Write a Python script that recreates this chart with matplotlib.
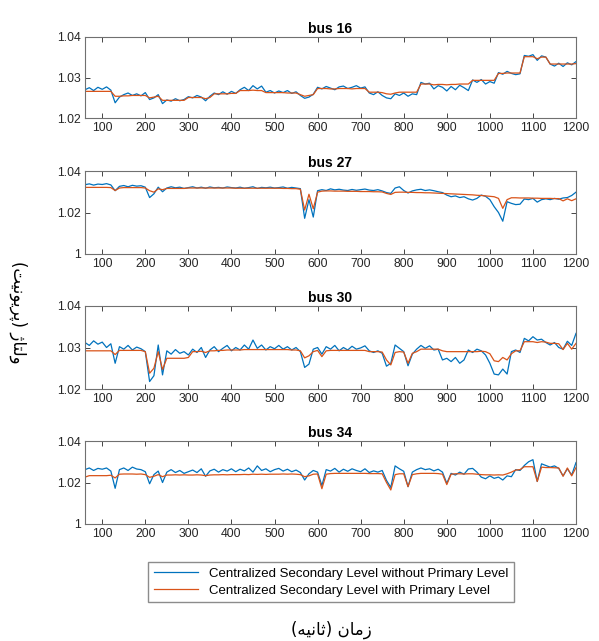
import matplotlib
matplotlib.use('Agg')
import matplotlib.pyplot as plt
from matplotlib.ticker import FuncFormatter
import numpy as np

time_s = np.arange(60, 1201, 10)

# bus 16 - one row per 100 s (first row: 60..100)
bus16_without = [
    1.0270, 1.0275, 1.0268, 1.0276, 1.0271,
    1.0277, 1.0269, 1.0238, 1.0252, 1.0258, 1.0262, 1.0256, 1.0260, 1.0255, 1.0263,
    1.0246, 1.0250, 1.0258, 1.0236, 1.0245, 1.0242, 1.0248, 1.0243, 1.0246, 1.0253,
    1.0250, 1.0256, 1.0252, 1.0243, 1.0254, 1.0262, 1.0258, 1.0265, 1.0259, 1.0266,
    1.0261, 1.0270, 1.0276, 1.0268, 1.0280, 1.0272, 1.0279, 1.0264, 1.0268, 1.0262,
    1.0267, 1.0263, 1.0268, 1.0261, 1.0265, 1.0256, 1.0249, 1.0252, 1.0259, 1.0276,
    1.0272, 1.0278, 1.0274, 1.0270, 1.0277, 1.0279, 1.0273, 1.0276, 1.0280, 1.0274,
    1.0277, 1.0262, 1.0258, 1.0265, 1.0256, 1.0250, 1.0248, 1.0260, 1.0256, 1.0262,
    1.0254, 1.0260, 1.0258, 1.0288, 1.0284, 1.0286, 1.0272, 1.0280, 1.0276, 1.0267,
    1.0278, 1.0270, 1.0281, 1.0275, 1.0268, 1.0294, 1.0288, 1.0295, 1.0284, 1.0290,
    1.0286, 1.0312, 1.0308, 1.0315, 1.0310, 1.0307, 1.0309, 1.0354, 1.0352, 1.0356,
    1.0342, 1.0353, 1.0350, 1.0333, 1.0328, 1.0335, 1.0327, 1.0336, 1.0331, 1.0339,
]
bus16_with = [
    1.0266, 1.0266, 1.0266, 1.0266, 1.0266,
    1.0266, 1.0266, 1.0254, 1.0254, 1.0255, 1.0255, 1.0256, 1.0256, 1.0256, 1.0256,
    1.0250, 1.0252, 1.0254, 1.0244, 1.0244, 1.0244, 1.0244, 1.0244, 1.0244, 1.0251,
    1.0251, 1.0251, 1.0251, 1.0248, 1.0251, 1.0260, 1.0260, 1.0260, 1.0260, 1.0261,
    1.0261, 1.0268, 1.0268, 1.0268, 1.0269, 1.0268, 1.0268, 1.0263, 1.0263, 1.0263,
    1.0263, 1.0263, 1.0262, 1.0262, 1.0262, 1.0258, 1.0254, 1.0256, 1.0258, 1.0273,
    1.0273, 1.0273, 1.0272, 1.0272, 1.0273, 1.0273, 1.0273, 1.0272, 1.0273, 1.0273,
    1.0273, 1.0264, 1.0264, 1.0264, 1.0263, 1.0260, 1.0259, 1.0262, 1.0264, 1.0264,
    1.0264, 1.0264, 1.0264, 1.0284, 1.0284, 1.0284, 1.0282, 1.0283, 1.0283, 1.0282,
    1.0283, 1.0283, 1.0284, 1.0284, 1.0284, 1.0293, 1.0293, 1.0293, 1.0293, 1.0293,
    1.0293, 1.0310, 1.0310, 1.0311, 1.0311, 1.0311, 1.0311, 1.0351, 1.0351, 1.0351,
    1.0346, 1.0350, 1.0350, 1.0333, 1.0333, 1.0333, 1.0333, 1.0333, 1.0333, 1.0334,
]

# bus 27
bus27_without = [
    1.0334, 1.0338, 1.0332, 1.0337, 1.0335,
    1.0339, 1.0333, 1.0305, 1.0326, 1.0330, 1.0324, 1.0331, 1.0327, 1.0329, 1.0322,
    1.0272, 1.0290, 1.0322, 1.0300, 1.0318, 1.0324, 1.0319, 1.0322, 1.0316, 1.0320,
    1.0324, 1.0318, 1.0322, 1.0317, 1.0323, 1.0319, 1.0321, 1.0318, 1.0323, 1.0320,
    1.0318, 1.0322, 1.0317, 1.0320, 1.0324, 1.0316, 1.0321, 1.0319, 1.0322, 1.0318,
    1.0320, 1.0323, 1.0317, 1.0321, 1.0318, 1.0315, 1.0172, 1.0262, 1.0178, 1.0305,
    1.0310, 1.0306, 1.0314, 1.0309, 1.0312, 1.0308, 1.0306, 1.0311, 1.0307, 1.0310,
    1.0313, 1.0308, 1.0306, 1.0310, 1.0304, 1.0296, 1.0292, 1.0318, 1.0324, 1.0306,
    1.0294, 1.0304, 1.0309, 1.0312, 1.0306, 1.0309, 1.0305, 1.0300, 1.0296, 1.0284,
    1.0276, 1.0280, 1.0272, 1.0276, 1.0266, 1.0260, 1.0268, 1.0284, 1.0278, 1.0262,
    1.0228, 1.0200, 1.0158, 1.0252, 1.0244, 1.0238, 1.0240, 1.0265, 1.0262, 1.0268,
    1.0250, 1.0262, 1.0266, 1.0262, 1.0268, 1.0264, 1.0270, 1.0272, 1.0282, 1.0298,
]
bus27_with = [
    1.0321, 1.0321, 1.0321, 1.0321, 1.0321,
    1.0321, 1.0320, 1.0306, 1.0318, 1.0320, 1.0320, 1.0320, 1.0320, 1.0320, 1.0318,
    1.0305, 1.0298, 1.0314, 1.0310, 1.0316, 1.0316, 1.0316, 1.0316, 1.0316, 1.0318,
    1.0318, 1.0318, 1.0318, 1.0318, 1.0318, 1.0318, 1.0318, 1.0318, 1.0318, 1.0318,
    1.0317, 1.0317, 1.0317, 1.0317, 1.0317, 1.0317, 1.0317, 1.0317, 1.0317, 1.0317,
    1.0317, 1.0316, 1.0316, 1.0315, 1.0315, 1.0312, 1.0212, 1.0288, 1.0218, 1.0298,
    1.0303, 1.0304, 1.0304, 1.0303, 1.0303, 1.0303, 1.0302, 1.0302, 1.0302, 1.0301,
    1.0301, 1.0301, 1.0300, 1.0300, 1.0299, 1.0292, 1.0287, 1.0297, 1.0298, 1.0298,
    1.0297, 1.0297, 1.0296, 1.0296, 1.0295, 1.0295, 1.0294, 1.0293, 1.0292, 1.0291,
    1.0290, 1.0289, 1.0288, 1.0287, 1.0286, 1.0285, 1.0283, 1.0282, 1.0280, 1.0278,
    1.0276, 1.0268, 1.0220, 1.0262, 1.0271, 1.0271, 1.0270, 1.0270, 1.0270, 1.0269,
    1.0269, 1.0268, 1.0268, 1.0268, 1.0267, 1.0267, 1.0256, 1.0266, 1.0257, 1.0266,
]

# bus 30
bus30_without = [
    1.0312, 1.0305, 1.0316, 1.0308, 1.0313,
    1.0300, 1.0309, 1.0262, 1.0302, 1.0296, 1.0305, 1.0294, 1.0301, 1.0297, 1.0290,
    1.0218, 1.0232, 1.0306, 1.0234, 1.0292, 1.0284, 1.0295, 1.0286, 1.0290, 1.0282,
    1.0296, 1.0288, 1.0300, 1.0276, 1.0294, 1.0302, 1.0290, 1.0298, 1.0305, 1.0292,
    1.0300, 1.0294, 1.0306, 1.0296, 1.0318, 1.0298, 1.0306, 1.0294, 1.0302, 1.0297,
    1.0305, 1.0296, 1.0302, 1.0294, 1.0300, 1.0290, 1.0252, 1.0260, 1.0296, 1.0300,
    1.0284, 1.0302, 1.0296, 1.0305, 1.0292, 1.0300, 1.0294, 1.0303, 1.0296, 1.0299,
    1.0304, 1.0292, 1.0288, 1.0292, 1.0286, 1.0255, 1.0262, 1.0306, 1.0298, 1.0290,
    1.0256, 1.0284, 1.0296, 1.0305, 1.0298, 1.0304, 1.0294, 1.0296, 1.0270, 1.0274,
    1.0266, 1.0276, 1.0262, 1.0270, 1.0294, 1.0288, 1.0296, 1.0292, 1.0282, 1.0262,
    1.0236, 1.0234, 1.0248, 1.0236, 1.0290, 1.0294, 1.0288, 1.0322, 1.0316, 1.0326,
    1.0318, 1.0320, 1.0312, 1.0306, 1.0312, 1.0300, 1.0296, 1.0315, 1.0305, 1.0334,
]
bus30_with = [
    1.0292, 1.0292, 1.0292, 1.0292, 1.0292,
    1.0292, 1.0292, 1.0283, 1.0293, 1.0293, 1.0293, 1.0293, 1.0293, 1.0293, 1.0290,
    1.0238, 1.0250, 1.0290, 1.0247, 1.0274, 1.0274, 1.0274, 1.0274, 1.0274, 1.0276,
    1.0290, 1.0290, 1.0291, 1.0288, 1.0292, 1.0292, 1.0293, 1.0293, 1.0294, 1.0294,
    1.0294, 1.0294, 1.0295, 1.0295, 1.0295, 1.0295, 1.0295, 1.0295, 1.0295, 1.0295,
    1.0295, 1.0295, 1.0295, 1.0294, 1.0294, 1.0292, 1.0275, 1.0280, 1.0290, 1.0293,
    1.0278, 1.0292, 1.0293, 1.0293, 1.0293, 1.0293, 1.0293, 1.0293, 1.0293, 1.0293,
    1.0293, 1.0290, 1.0290, 1.0290, 1.0289, 1.0270, 1.0258, 1.0288, 1.0290, 1.0289,
    1.0262, 1.0286, 1.0290, 1.0296, 1.0296, 1.0296, 1.0296, 1.0296, 1.0292, 1.0290,
    1.0290, 1.0290, 1.0290, 1.0290, 1.0290, 1.0290, 1.0290, 1.0291, 1.0290, 1.0285,
    1.0268, 1.0266, 1.0276, 1.0270, 1.0285, 1.0292, 1.0292, 1.0314, 1.0314, 1.0314,
    1.0312, 1.0314, 1.0313, 1.0310, 1.0310, 1.0309, 1.0295, 1.0310, 1.0296, 1.0310,
]

# bus 34
bus34_without = [
    1.0262, 1.0270, 1.0258, 1.0268, 1.0264,
    1.0270, 1.0255, 1.0172, 1.0262, 1.0270, 1.0258, 1.0274, 1.0265, 1.0262, 1.0252,
    1.0194, 1.0238, 1.0255, 1.0200, 1.0250, 1.0262, 1.0248, 1.0258, 1.0244, 1.0252,
    1.0260, 1.0248, 1.0266, 1.0230, 1.0256, 1.0264, 1.0250, 1.0262, 1.0255, 1.0266,
    1.0252, 1.0264, 1.0256, 1.0270, 1.0250, 1.0280, 1.0258, 1.0266, 1.0252, 1.0262,
    1.0268, 1.0255, 1.0264, 1.0252, 1.0260, 1.0248, 1.0212, 1.0242, 1.0258, 1.0250,
    1.0185, 1.0262, 1.0255, 1.0268, 1.0250, 1.0264, 1.0254, 1.0266, 1.0258, 1.0252,
    1.0266, 1.0248, 1.0256, 1.0250, 1.0258, 1.0210, 1.0176, 1.0280, 1.0266, 1.0254,
    1.0180, 1.0250, 1.0262, 1.0270, 1.0262, 1.0266, 1.0256, 1.0264, 1.0250, 1.0196,
    1.0244, 1.0236, 1.0250, 1.0240, 1.0265, 1.0268, 1.0250, 1.0226, 1.0218, 1.0232,
    1.0220, 1.0226, 1.0212, 1.0232, 1.0228, 1.0262, 1.0258, 1.0282, 1.0300, 1.0310,
    1.0205, 1.0290, 1.0282, 1.0274, 1.0280, 1.0268, 1.0232, 1.0266, 1.0236, 1.0296,
]
bus34_with = [
    1.0226, 1.0233, 1.0233, 1.0233, 1.0233,
    1.0233, 1.0235, 1.0222, 1.0240, 1.0241, 1.0241, 1.0241, 1.0240, 1.0241, 1.0238,
    1.0225, 1.0230, 1.0238, 1.0228, 1.0236, 1.0236, 1.0237, 1.0236, 1.0237, 1.0236,
    1.0236, 1.0237, 1.0236, 1.0233, 1.0236, 1.0237, 1.0237, 1.0238, 1.0237, 1.0238,
    1.0238, 1.0238, 1.0239, 1.0238, 1.0240, 1.0239, 1.0240, 1.0239, 1.0240, 1.0240,
    1.0240, 1.0241, 1.0240, 1.0241, 1.0240, 1.0238, 1.0228, 1.0232, 1.0240, 1.0241,
    1.0170, 1.0240, 1.0243, 1.0244, 1.0244, 1.0244, 1.0244, 1.0244, 1.0244, 1.0244,
    1.0244, 1.0243, 1.0243, 1.0243, 1.0242, 1.0200, 1.0164, 1.0238, 1.0242, 1.0242,
    1.0180, 1.0238, 1.0242, 1.0244, 1.0244, 1.0244, 1.0244, 1.0243, 1.0240, 1.0190,
    1.0240, 1.0242, 1.0242, 1.0241, 1.0242, 1.0242, 1.0240, 1.0238, 1.0237, 1.0237,
    1.0236, 1.0237, 1.0236, 1.0242, 1.0250, 1.0260, 1.0262, 1.0276, 1.0276, 1.0276,
    1.0205, 1.0274, 1.0272, 1.0272, 1.0271, 1.0270, 1.0230, 1.0270, 1.0232, 1.0272,
]

bus_names = ['bus 16', 'bus 27', 'bus 30', 'bus 34']
series_without = [bus16_without, bus27_without, bus30_without, bus34_without]
series_with = [bus16_with, bus27_with, bus30_with, bus34_with]
y_limits = [(1.02, 1.04), (1.0, 1.04), (1.02, 1.04), (1.0, 1.04)]
y_ticks = [[1.02, 1.03, 1.04], [1.0, 1.02, 1.04], [1.02, 1.03, 1.04], [1.0, 1.02, 1.04]]
x_ticks = list(range(100, 1201, 100))

legend_labels = ['Centralized Secondary Level without Primary Level',
                 'Centralized Secondary Level with Primary Level']

# Persian labels, written in visual order with Arabic presentation forms
# (matplotlib does no shaping): "زمان (ثانیه)" and "ولتاژ (پریونیت)"
x_label = '(\uFEEA\uFEF4\uFEE7\uFE8E\uFE9B) \uFEE5\uFE8E\uFEE3\uFEAF'
y_label = '(\uFE96\uFEF4\uFEE7\uFEEE\uFEF3\uFEAE\uFB58) \uFB8A\uFE8E\uFE98\uFEDF\uFEED'

blue = '#0072BD'
orange = '#D95319'
edge = '#262626'

plt.rcParams['font.family'] = ['Liberation Sans', 'DejaVu Sans']

W, H = 599, 641
fig = plt.figure(figsize=(W / 100, H / 100), dpi=100)

# axes boxes in pixels (top, bottom)
boxes = [(36.7, 118.3), (171, 254), (306, 389), (441, 524)]
left_px, right_px = 85, 576

lines = []
for i in range(4):
    top, bot = boxes[i]
    ax = fig.add_axes([left_px / W, 1 - bot / H, (right_px - left_px) / W, (bot - top) / H])
    l1, = ax.plot(time_s, series_without[i], color=blue, lw=0.9)
    l2, = ax.plot(time_s, series_with[i], color=orange, lw=0.9)
    lines = [l1, l2]
    ax.set_xlim(60, 1200)
    ax.set_ylim(*y_limits[i])
    ax.set_xticks(x_ticks)
    ax.set_yticks(y_ticks[i])
    ax.yaxis.set_major_formatter(FuncFormatter(lambda v, p: '%g' % v))
    ax.tick_params(direction='in', top=True, right=True, length=3.5, width=0.6,
                   labelsize=8.8, colors=edge, labelcolor='#262626', pad=3)
    for s in ax.spines.values():
        s.set_color('#707070')
        s.set_linewidth(0.8)
    ax.set_title(bus_names[i], fontsize=10, fontweight='bold', pad=3)

fig.legend(lines, legend_labels, loc='center',
           bbox_to_anchor=(331 / W, 1 - 582 / H), fontsize=9.5,
           handlelength=3.4, frameon=True, fancybox=False,
           edgecolor='#707070', borderpad=0.45, labelspacing=0.35)

fig.text(331 / W, 1 - 630 / H, x_label, family='DejaVu Sans', fontsize=12,
         ha='center', va='center')
fig.text(18 / W, 1 - 312 / H, y_label, family='DejaVu Sans', fontsize=12,
         ha='center', va='center', rotation=-90)

fig.savefig('out.png', dpi=100)
